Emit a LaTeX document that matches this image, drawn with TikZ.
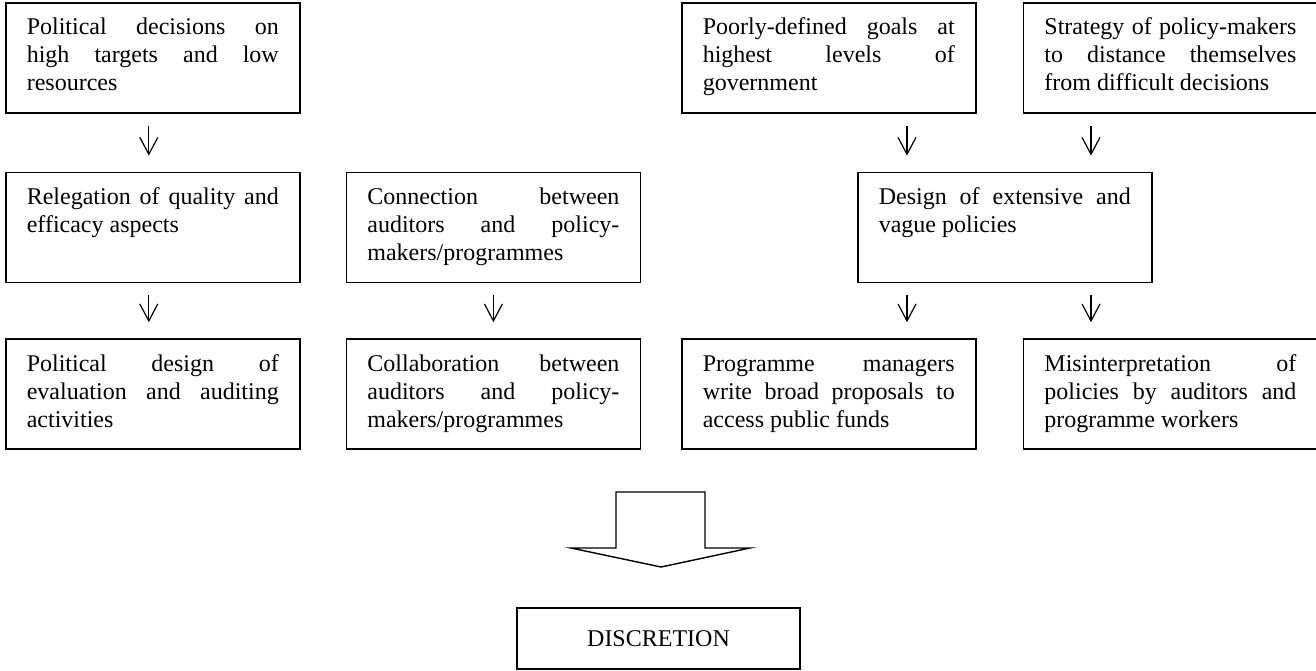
\documentclass[tikz,border=0pt]{standalone}
\usepackage{fontspec}
\setmainfont{Liberation Serif}
\usetikzlibrary{arrows.meta,positioning,calc}

\begin{document}
\begin{tikzpicture}[x=0.5pt, y=-0.5pt, font=\fontsize{12}{14}\selectfont,
  factor/.style={draw, line width=0.8pt, anchor=north west, text width=126pt, inner xsep=10.5pt, inner ysep=7pt, text height=9pt, text depth=32pt, align=justify},
  flow/.style={-{Straight Barb[length=8.5pt,width=9pt]}, line width=0.6pt, shorten <=6pt, shorten >=8pt}]
\useasboundingbox (0,0) rectangle (1316,670);

% left column
\node(A)[factor] at (5,2) {Political decisions on\linebreak high targets and low\linebreak resources};
\node(B)[factor, below=29pt of A] {Relegation of quality and\linebreak efficacy aspects};
\node(C)[factor, below=27.5pt of B] {Political design of\linebreak evaluation and auditing\linebreak activities};

% auditors
\node(D)[factor, right=22.5pt of B] {Connection between\linebreak auditors and policy-\linebreak makers/programmes};
\node(E)[factor, below=27.5pt of D] {Collaboration between\linebreak auditors and policy-\linebreak makers/programmes};

% right part
\node(F)[factor] at (681,0 |- A.north) {Poorly-defined goals at\linebreak highest levels of\linebreak government};
\node(G)[factor, right=23pt of F] {Strategy of policy-makers\linebreak to distance themselves\linebreak from difficult decisions};
\node(H)[factor] at (857,0 |- B.north) {Design of extensive and\linebreak vague policies};
\node(I)[factor] at (681,0 |- C.north) {Programme managers\linebreak write broad proposals to\linebreak access public funds};
\node(J)[factor, right=23pt of I] {Misinterpretation of\linebreak policies by auditors and\linebreak programme workers};

\node(discretion)[draw, line width=0.8pt, minimum width=141.5pt, minimum height=30.5pt, anchor=north] at (658.5,607) {DISCRETION};

\coordinate (hl) at ([xshift=25pt]H.north west);
\coordinate (hr) at ([xshift=117pt]H.north west);

\draw[flow] ([xshift=-2pt]A.south) -- ([xshift=-2pt]B.north);
\draw[flow] ([xshift=-2pt]B.south) -- ([xshift=-2pt]C.north);
\draw[flow] (D.south) -- (E.north);
\draw[flow] (F.south -| hl) -- (hl);
\draw[flow] (G.south -| hr) -- (hr);
\draw[flow] (H.south -| hl) -- (I.north -| hl);
\draw[flow] (H.south -| hr) -- (J.north -| hr);

% big arrow
\draw[line width=0.7pt] (616,492) -- (705,492) -- (705,548) -- (750,548) -- (661,567) -- (571,548) -- (616,548) -- cycle;
\end{tikzpicture}
\end{document}
